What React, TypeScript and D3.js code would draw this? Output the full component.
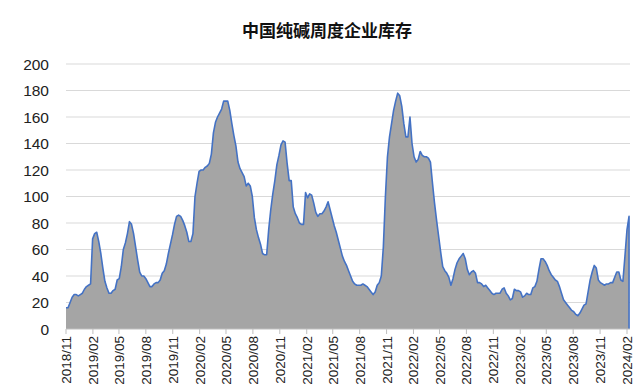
import React from "react";
import * as d3 from "d3";

const startDate = new Date(2018, 10, 1);
const inventory: number[] = [
  16, 16, 20, 24, 26, 26, 25, 26, 27, 30, 32, 33, 34, 68, 72, 73, 66, 57, 46, 36,
  31, 27, 27, 29, 30, 37, 38, 47, 60, 65, 72, 81, 79, 72, 62, 52, 43, 40, 40, 38,
  35, 32, 32, 34, 35, 35, 37, 42, 44, 49, 57, 64, 71, 79, 85, 86, 85, 82, 78, 73,
  66, 66, 72, 100, 110, 119, 120, 120, 122, 123, 125, 132, 148, 156, 160, 163, 166, 172, 172, 172,
  165, 155, 146, 138, 126, 121, 118, 115, 108, 110, 108, 100, 84, 75, 69, 64, 57, 56, 56, 75,
  90, 102, 112, 124, 131, 139, 142, 141, 125, 112, 112, 92, 87, 84, 80, 79, 79, 103, 99, 102,
  101, 95, 88, 85, 87, 87, 89, 92, 96, 90, 84, 78, 73, 67, 61, 55, 51, 48, 44, 40,
  36, 34, 33, 33, 33, 34, 33, 32, 30, 28, 26, 28, 33, 35, 40, 62, 100, 130, 145, 155,
  165, 172, 178, 176, 168, 155, 145, 145, 160, 140, 130, 126, 128, 134, 131, 130, 130, 129, 126, 110,
  95, 82, 70, 58, 47, 44, 42, 39, 33, 38, 45, 50, 53, 55, 57, 53, 45, 41, 43, 44,
  42, 35, 35, 34, 32, 33, 31, 29, 27, 26, 27, 27, 27, 30, 31, 27, 25, 22, 23, 30,
  29, 29, 28, 24, 25, 27, 26, 26, 31, 32, 36, 45, 53, 53, 51, 48, 44, 41, 39, 37,
  36, 32, 27, 22, 20, 18, 16, 14, 13, 11, 10, 12, 15, 18, 19, 28, 37, 43, 48, 46,
  37, 35, 34, 33, 34, 34, 35, 35, 39, 43, 43, 37, 36, 55, 75, 85,
];
const tickLabels: string[] = [
  "2018/11", "2019/02", "2019/05", "2019/08", "2019/11", "2020/02", "2020/05", "2020/08",
  "2020/11", "2021/02", "2021/05", "2021/08", "2021/11", "2022/02", "2022/05", "2022/08",
  "2022/11", "2023/02", "2023/05", "2023/08", "2023/11", "2024/02",
];
const yTicks: number[] = [0, 20, 40, 60, 80, 100, 120, 140, 160, 180, 200];
const title = "中国纯碱周度企业库存";

export default function App() {
  const W = 640, H = 390;
  const left = 66, right = 627, top = 64, bottom = 329;
  const dates = inventory.map((_, i) => d3.timeDay.offset(startDate, i * 7));
  const tickDates = tickLabels.map((s) => {
    const [y, m] = s.split("/").map(Number);
    return new Date(y, m - 1, 1);
  });
  const x = d3.scaleTime().domain([tickDates[0], tickDates[tickDates.length - 1]]).range([left, right]);
  const y = d3.scaleLinear().domain([0, 200]).range([bottom, top]);
  const pts: [number, number][] = inventory.map((v, i) => [x(dates[i]), y(v)]);
  const area = d3.area<[number, number]>().x((d) => d[0]).y0(y(0)).y1((d) => d[1]);
  const lastX = pts[pts.length - 1][0];
  const outline = d3.line()([...pts, [lastX, y(0)]]);
  const font = "'Liberation Sans', Arial, sans-serif";
  return (
    <svg width={W} height={H} style={{ position: "absolute", left: 0, top: 0 }}>
      <rect width={W} height={H} fill="#fff" />
      <text x={327} y={37} textAnchor="middle" fontFamily="'Noto Sans CJK SC'" fontWeight="bold" fontSize={17} fill="#111">
        {title}
      </text>
      {yTicks.map((t) => (
        <g key={t}>
          {t > 0 && <line x1={left} x2={right + 3} y1={y(t)} y2={y(t)} stroke="#d9d9d9" strokeWidth={1} />}
          <text x={49} y={y(t) + 5.5} textAnchor="end" fontFamily={font} fontSize={15.5} fill="#222">
            {t}
          </text>
        </g>
      ))}
      <path d={area(pts) || ""} fill="#a5a5a5" />
      <path d={outline || ""} fill="none" stroke="#4472c4" strokeWidth={1.6} strokeLinejoin="round" />
      <line x1={left} x2={right + 3} y1={bottom} y2={bottom} stroke="#bfbfbf" />
      {tickDates.map((d, i) => (
        <g key={tickLabels[i]} transform={`translate(${x(d)},${bottom})`}>
          <line y1={0} y2={5} stroke="#bfbfbf" />
          <text transform="rotate(-90)" x={-7} y={5} textAnchor="end" fontFamily={font} fontSize={13.5} fill="#222">
            {tickLabels[i]}
          </text>
        </g>
      ))}
    </svg>
  );
}
